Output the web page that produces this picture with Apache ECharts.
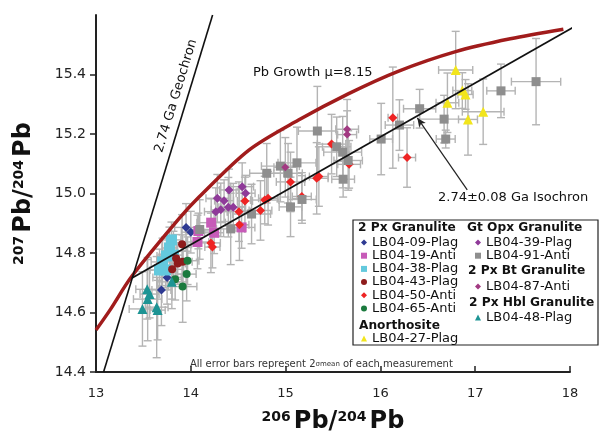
<!DOCTYPE html>
<html>
<head>
<meta charset="utf-8">
<script src="https://cdn.jsdelivr.net/npm/echarts@6/dist/echarts.min.js"></script>
<style>
  html, body { margin: 0; padding: 0; background: #fff; }
  #chart { width: 605px; height: 434px; }
</style>
</head>
<body>
<div id="chart"></div>
<script>
// each point: [206Pb/204Pb, 207Pb/204Pb, x error, y error]
var lb0409Plag = [[13.95,14.886,0.12,0.08],[14.00,14.870,0.10,0.07],[13.75,14.718,0.15,0.09],[13.69,14.676,0.10,0.12]];
var lb0419Anti = [[14.08,14.874,0.12,0.06],[14.215,14.902,0.15,0.08],[14.246,14.868,0.10,0.07],[14.07,14.837,0.12,0.09],[14.536,14.886,0.14,0.07]];
var lb0438Plag = [[13.796,14.844,0.10,0.06],[13.775,14.817,0.08,0.07],[13.743,14.790,0.10,0.06],[13.702,14.770,0.12,0.08],[13.670,14.743,0.10,0.07],[13.733,14.743,0.08,0.06],[13.817,14.793,0.10,0.08]];
var lb0443Plag = [[13.908,14.829,0.10,0.10],[13.845,14.782,0.12,0.08],[13.862,14.765,0.08,0.07],[13.914,14.771,0.10,0.09],[13.803,14.745,0.12,0.10]];
var lb0450Anti = [[14.212,14.834,0.10,0.10],[14.228,14.820,0.08,0.07],[14.508,14.939,0.12,0.10],[14.513,14.895,0.10,0.12],[14.571,14.975,0.08,0.08],[14.735,14.943,0.12,0.10],[14.78,14.978,0.15,0.08],[14.815,14.984,0.10,0.09],[15.052,15.039,0.15,0.10],[15.171,14.990,0.10,0.08],[15.328,15.051,0.12,0.12],[15.351,15.057,0.10,0.10],[15.485,15.166,0.15,0.10],[15.67,15.098,0.12,0.08],[16.131,15.255,0.05,0.17],[16.281,15.121,0.09,0.10]];
var lb0465Anti = [[13.966,14.774,0.12,0.08],[13.956,14.729,0.10,0.09],[13.835,14.712,0.08,0.07],[13.914,14.687,0.15,0.12]];
var lb0427Plag = [[16.794,15.415,0.18,0.13],[16.864,15.346,0.10,0.06],[16.898,15.333,0.08,0.05],[16.707,15.305,0.12,0.10],[17.084,15.275,0.22,0.11],[16.924,15.249,0.10,0.12]];
var lb0439Plag = [[14.403,15.012,0.10,0.07],[14.542,15.023,0.12,0.08],[14.578,15.001,0.10,0.06],[14.28,14.984,0.12,0.08],[14.351,14.976,0.10,0.07],[14.396,14.954,0.10,0.10],[14.448,14.954,0.12,0.08],[14.316,14.945,0.10,0.09],[14.264,14.939,0.12,0.08]];
var lb0491Anti = [[14.094,14.879,0.15,0.10],[14.421,14.881,0.15,0.12],[14.641,14.931,0.20,0.10],[14.801,15.068,0.18,0.10],[14.945,15.092,0.20,0.12],[15.026,15.068,0.15,0.10],[15.12,15.103,0.20,0.12],[15.173,14.980,0.15,0.08],[15.052,14.955,0.12,0.10],[15.335,15.210,0.20,0.15],[15.539,15.157,0.15,0.10],[15.602,15.139,0.20,0.12],[15.66,15.111,0.15,0.10],[15.607,15.048,0.12,0.06],[16.008,15.183,0.12,0.12],[16.201,15.230,0.15,0.085],[16.414,15.285,0.17,0.065],[16.672,15.250,0.26,0.08],[16.689,15.183,0.10,0.03],[17.272,15.345,0.15,0.09],[17.642,15.376,0.26,0.145]];
var lb0487Anti = [[15.649,15.216,0.12,0.10],[15.649,15.198,0.10,0.08],[14.997,15.088,0.12,0.10]];
var lb0448Plag = [[13.54,14.678,0.12,0.10],[13.565,14.662,0.10,0.08],[13.545,14.645,0.15,0.14],[13.49,14.612,0.14,0.125],[13.64,14.618,0.12,0.17],[13.65,14.608,0.08,0.10],[13.80,14.703,0.15,0.09]];

var pbGrowth = [[13.0,14.541],[13.147,14.608],[13.374,14.72],[13.88,14.917],[14.089,14.989],[14.613,15.146],[15.136,15.247],[15.66,15.335],[16.18,15.41],[16.794,15.477],[17.37,15.52],[17.93,15.552]];
var geochron = [[13.08,14.4],[14.23,15.6]];
var isochron = [[13.38,14.716],[18.17,15.583]];
var arrowLine = [[16.916,15.012],[16.39,15.254]];

var xTicks = [13, 14, 15, 16, 17, 18];
var yTicks = [14.4, 14.6, 14.8, 15.0, 15.2, 15.4];

var groups = [
  { name: 'LB04-09-Plag', data: lb0409Plag, symbol: 'diamond', size: 9, color: '#2e3a92' },
  { name: 'LB04-19-Anti', data: lb0419Anti, symbol: 'rect', size: 10, color: '#c75bb8' },
  { name: 'LB04-38-Plag', data: lb0438Plag, symbol: 'rect', size: 11, color: '#63c9dd' },
  { name: 'LB04-43-Plag', data: lb0443Plag, symbol: 'circle', size: 8, color: '#8e1c1c' },
  { name: 'LB04-50-Anti', data: lb0450Anti, symbol: 'diamond', size: 9, color: '#ee2424' },
  { name: 'LB04-65-Anti', data: lb0465Anti, symbol: 'circle', size: 8, color: '#1b7a3e' },
  { name: 'LB04-27-Plag', data: lb0427Plag, symbol: 'triangle', size: 10, color: '#f2e51c' },
  { name: 'LB04-39-Plag', data: lb0439Plag, symbol: 'diamond', size: 9, color: '#8f3a99' },
  { name: 'LB04-91-Anti', data: lb0491Anti, symbol: 'rect', size: 9, color: '#8e8e8e' },
  { name: 'LB04-87-Anti', data: lb0487Anti, symbol: 'diamond', size: 8, color: '#a23a82' },
  { name: 'LB04-48-Plag', data: lb0448Plag, symbol: 'triangle', size: 10, color: '#1d9494' }
];

var FONT = 'DejaVu Sans';

function renderErr(params, api) {
  var x = api.value(0), y = api.value(1), ex = api.value(2), ey = api.value(3);
  var c = api.coord([x, y]);
  var l = api.coord([x - ex, y])[0], r = api.coord([x + ex, y])[0];
  var t = api.coord([x, y + ey])[1], b = api.coord([x, y - ey])[1];
  var cap = 4;
  var st = { stroke: '#b4b4b4', lineWidth: 1.4 };
  return {
    type: 'group',
    children: [
      { type: 'line', shape: { x1: l, y1: c[1], x2: r, y2: c[1] }, style: st },
      { type: 'line', shape: { x1: l, y1: c[1] - cap, x2: l, y2: c[1] + cap }, style: st },
      { type: 'line', shape: { x1: r, y1: c[1] - cap, x2: r, y2: c[1] + cap }, style: st },
      { type: 'line', shape: { x1: c[0], y1: t, x2: c[0], y2: b }, style: st },
      { type: 'line', shape: { x1: c[0] - cap, y1: t, x2: c[0] + cap, y2: t }, style: st },
      { type: 'line', shape: { x1: c[0] - cap, y1: b, x2: c[0] + cap, y2: b }, style: st }
    ]
  };
}

var allPoints = [];
groups.forEach(function (g) { allPoints = allPoints.concat(g.data); });

var series = [{
  type: 'custom',
  name: 'errors',
  renderItem: renderErr,
  data: allPoints,
  encode: { x: 0, y: 1 },
  z: 1,
  silent: true
}];

groups.forEach(function (g) {
  series.push({
    type: 'scatter',
    name: g.name,
    data: g.data,
    symbol: g.symbol,
    symbolSize: g.size,
    itemStyle: { color: g.color, opacity: 1 },
    z: 3
  });
});

series.push({
  type: 'line', name: 'pbGrowth', data: pbGrowth, smooth: 0.3, showSymbol: false,
  lineStyle: { color: '#a11c1c', width: 3.5 }, z: 4, silent: true
});
series.push({
  type: 'line', name: 'geochron', data: geochron, showSymbol: false,
  lineStyle: { color: '#111', width: 1.6 }, z: 5, silent: true
});
series.push({
  type: 'line', name: 'isochron', data: isochron, showSymbol: false, clip: false,
  lineStyle: { color: '#111', width: 1.8 }, z: 5, silent: true,
  markLine: {
    silent: true, symbol: ['none', 'arrow'], symbolSize: [6, 9],
    lineStyle: { color: '#222', width: 1.2, type: 'solid' }, label: { show: false },
    data: [[{ coord: arrowLine[0] }, { coord: arrowLine[1] }]]
  }
});

function legendAt(names, left, top) {
  return {
    data: names, orient: 'vertical', left: left, top: top, padding: 0,
    itemWidth: 6, itemHeight: 6, itemGap: 0.2, selectedMode: false, z: 10,
    textStyle: { fontSize: 13, fontFamily: FONT, color: '#111', lineHeight: 13 }
  };
}

var headStyle = { fontSize: 12.2, fontWeight: 'bold', fontFamily: FONT, fill: '#111' };
function head(text, x, y) {
  return { type: 'text', x: x, y: y, z: 11,
    style: Object.assign({ text: text, verticalAlign: 'middle' }, headStyle) };
}

var nameRich = {
  b: { fontSize: 24, fontWeight: 'bold', fontFamily: FONT, color: '#111' },
  sup: { fontSize: 14, fontWeight: 'bold', fontFamily: FONT, color: '#111', verticalAlign: 'top', padding: [0, 3, 0, 0] }
};

var option = {
  animation: false,
  backgroundColor: '#fff',
  grid: { left: 96, right: 35, top: 15, bottom: 62, outerBoundsMode: 'none' },
  xAxis: {
    type: 'value', min: 13, max: 18, interval: 1,
    name: '{sup|206}{b|Pb/}{sup|204}{b|Pb}', nameLocation: 'middle', nameGap: 38,
    nameTextStyle: { rich: nameRich },
    axisLine: { lineStyle: { color: '#222', width: 2 } },
    axisTick: { inside: true, length: 6, lineStyle: { color: '#222', width: 1.5 } },
    axisLabel: { fontSize: 13, fontFamily: FONT, color: '#222', margin: 15,
      formatter: function (v) { return xTicks.indexOf(v) >= 0 ? String(v) : ''; } },
    splitLine: { show: false }
  },
  yAxis: {
    type: 'value', min: 14.4, max: 15.6, interval: 0.2,
    name: '{sup|207}{b|Pb/}{sup|204}{b|Pb}', nameLocation: 'middle', nameGap: 60, nameRotate: 90,
    nameTextStyle: { rich: nameRich },
    axisLine: { show: true, lineStyle: { color: '#222', width: 2 } },
    axisTick: { show: true, length: 6, customValues: yTicks, lineStyle: { color: '#222', width: 1.5 } },
    axisLabel: { fontSize: 14, fontFamily: FONT, color: '#222', margin: 10, customValues: yTicks,
      formatter: function (v) { return v.toFixed(1); } },
    splitLine: { show: false }
  },
  legend: [
    legendAt(['LB04-09-Plag', 'LB04-19-Anti', 'LB04-38-Plag', 'LB04-43-Plag', 'LB04-50-Anti', 'LB04-65-Anti'], 361, 236),
    legendAt(['LB04-27-Plag'], 361, 332),
    legendAt(['LB04-39-Plag', 'LB04-91-Anti'], 475, 236),
    legendAt(['LB04-87-Anti'], 475, 280),
    legendAt(['LB04-48-Plag'], 475, 311)
  ],
  graphic: [
    { type: 'rect', shape: { x: 353, y: 220, width: 245, height: 125 }, z: 9,
      style: { fill: '#fff', stroke: '#222', lineWidth: 1.2 } },
    head('2 Px Granulite', 358, 228),
    head('Anorthosite', 359, 326),
    head('Gt Opx Granulite', 467, 228),
    head('2 Px Bt Granulite', 468, 271),
    head('2 Px Hbl Granulite', 469, 303),
    { type: 'text', x: 176, y: 96, rotation: 73 * Math.PI / 180, z: 12,
      style: { text: '2.74 Ga Geochron', align: 'center', verticalAlign: 'middle', fontSize: 13, fontFamily: FONT, fill: '#111' } },
    { type: 'text', x: 253, y: 73, z: 12,
      style: { text: 'Pb Growth \u03bc=8.15', verticalAlign: 'middle', fontSize: 13, fontFamily: FONT, fill: '#111' } },
    { type: 'text', x: 438, y: 198, z: 12,
      style: { text: '2.74\u00b10.08 Ga Isochron', verticalAlign: 'middle', fontSize: 13, fontFamily: FONT, fill: '#111' } },
    { type: 'text', x: 190, y: 364, z: 12,
      style: {
        text: '{a|All error bars represent 2}{s|\u03c3mean}{a| of each measurement}',
        verticalAlign: 'middle',
        rich: {
          a: { fontSize: 10, fontFamily: FONT, fill: '#333' },
          s: { fontSize: 7, fontFamily: FONT, fill: '#333' }
        }
      } }
  ],
  series: series
};

var chart = echarts.init(document.getElementById('chart'), null, { renderer: 'canvas' });
chart.setOption(option);
</script>
</body>
</html>
